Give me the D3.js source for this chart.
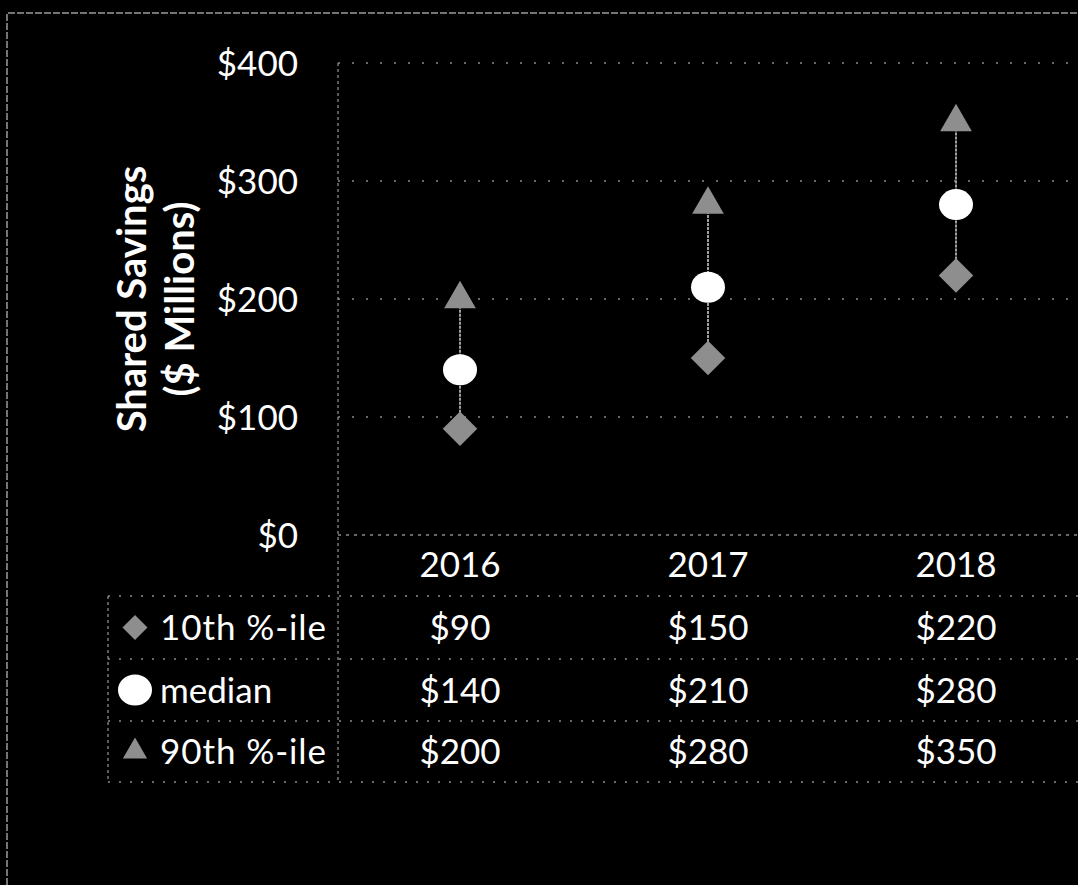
<!DOCTYPE html>
<html>
<head>
<meta charset="utf-8">
<script src="https://cdn.jsdelivr.net/npm/d3@7"></script>
<style>
  html, body { margin: 0; padding: 0; background: #000; }
  svg { display: block; }
  text { font-family: Lato, "Open Sans", sans-serif; fill: #fff; }
</style>
</head>
<body>
<svg id="chart" width="1078" height="885"></svg>
<script>
// ---- data ----
const years = ["2016", "2017", "2018"];
const p10 = [90, 150, 220];
const median = [140, 210, 280];
const p90 = [200, 280, 350];
const seriesNames = ["10th %-ile", "median", "90th %-ile"];
const yTicks = [0, 100, 200, 300, 400];
const yTitle = ["Shared Savings", "($ Millions)"];

// ---- layout ----
const W = 1078, H = 885;
const plotLeft = 338, plotTop = 63, plotBottom = 535;
const bandW = 248;
const rowTops = [596, 659, 721, 782];
const tableLeft = 108;

const svg = d3.select("#chart");
svg.append("rect").attr("width", W).attr("height", H).attr("fill", "#000");

const x = d3.scaleBand().domain(years).range([plotLeft - 2, plotLeft - 2 + bandW * years.length]);
const y = d3.scaleLinear().domain([0, 400]).range([plotBottom, plotTop]);

const gridCol = "#8a8a8a";
// outer chart border
svg.append("path")
  .attr("d", `M7,${H} L7,13 L${W},13`)
  .attr("fill", "none").attr("stroke", "#9a9a9a").attr("stroke-width", 1.5)
  .attr("stroke-dasharray", "7,2");

// gridlines
svg.append("g").selectAll("line").data(yTicks).join("line")
  .attr("x1", plotLeft).attr("x2", W)
  .attr("y1", d => y(d)).attr("y2", d => y(d))
  .attr("stroke", gridCol).attr("stroke-width", 1.3)
  .attr("stroke-dasharray", d => d === 0 ? "3,5" : "2,12");

// plot-left vertical line (extends through table)
svg.append("line")
  .attr("x1", plotLeft).attr("x2", plotLeft)
  .attr("y1", plotTop).attr("y2", rowTops[3])
  .attr("stroke", gridCol).attr("stroke-width", 1.3).attr("stroke-dasharray", "3,3");

// y axis via d3.axisLeft
const yAxis = d3.axisLeft(y).tickValues(yTicks).tickSize(0).tickPadding(0)
  .tickFormat(d => "$" + d);
const gy = svg.append("g").attr("transform", "translate(298,0)").call(yAxis);
gy.select(".domain").remove();
gy.selectAll("text")
  .attr("x", 0).attr("dy", "0.36em")
  .style("font-size", "35px").style("fill", "#fff")
  .attr("font-family", "Lato, sans-serif");

// y axis title
yTitle.forEach((t, i) => {
  svg.append("text")
    .attr("transform", `translate(${146 + i * 48},299) rotate(-90)`)
    .attr("text-anchor", "middle")
    .style("font-size", "40px").style("font-weight", "bold")
    .text(t);
});

// category labels
const xAxis = d3.axisBottom(x).tickSize(0).tickPadding(0);
const gx = svg.append("g").attr("transform", `translate(0,${plotBottom})`).call(xAxis);
gx.select(".domain").remove();
gx.selectAll("text")
  .attr("y", 0).attr("dy", "1.2em")
  .style("font-size", "35px").style("fill", "#fff")
  .attr("font-family", "Lato, sans-serif");

// table lines
svg.append("g").selectAll("line").data(rowTops).join("line")
  .attr("x1", tableLeft).attr("x2", W)
  .attr("y1", d => d).attr("y2", d => d)
  .attr("stroke", gridCol).attr("stroke-width", 1.3).attr("stroke-dasharray", "2,9");
svg.append("line")
  .attr("x1", tableLeft).attr("x2", tableLeft)
  .attr("y1", rowTops[0]).attr("y2", rowTops[3])
  .attr("stroke", gridCol).attr("stroke-width", 1.3).attr("stroke-dasharray", "3,3");

// ---- markers ----
const markerGrey = "#8e8e8e";
const diamond = d3.symbol().type(d3.symbolDiamond2);
const triangle = d3.symbol().type(d3.symbolTriangle2);
const cx = d => x(d) + x.bandwidth() / 2;

// high-low lines
svg.append("g").selectAll("line").data(years).join("line")
  .attr("x1", cx).attr("x2", cx)
  .attr("y1", (d, i) => y(p10[i])).attr("y2", (d, i) => y(p90[i]))
  .attr("stroke", "#a0a0a0").attr("stroke-width", 2).attr("stroke-dasharray", "3,1");

svg.append("g").selectAll("path").data(years).join("path")
  .attr("d", diamond.size(760))
  .attr("transform", (d, i) => `translate(${cx(d)},${y(p10[i])})`)
  .attr("fill", markerGrey);

svg.append("g").selectAll("path").data(years).join("path")
  .attr("d", triangle.size(720))
  .attr("transform", (d, i) => `translate(${cx(d)},${y(p90[i])})`)
  .attr("fill", markerGrey);

svg.append("g").selectAll("ellipse").data(years).join("ellipse")
  .attr("cx", cx).attr("cy", (d, i) => y(median[i]))
  .attr("rx", 17).attr("ry", 15.5)
  .attr("fill", "#fff");

// ---- data table ----
const tableSeries = [p10, median, p90];
tableSeries.forEach((vals, r) => {
  const cy = (rowTops[r] + rowTops[r + 1]) / 2;
  svg.append("g").selectAll("text").data(vals).join("text")
    .attr("x", (v, i) => cx(years[i]))
    .attr("y", cy).attr("dy", "0.36em")
    .attr("text-anchor", "middle")
    .style("font-size", "35px")
    .text(v => "$" + v);
  svg.append("text")
    .attr("x", 160).attr("y", cy).attr("dy", "0.36em")
    .style("font-size", "35px")
    .attr("textLength", r === 1 ? null : 166)
    .text(seriesNames[r]);
});

// legend keys
const keyX = 135;
const rowMid = r => (rowTops[r] + rowTops[r + 1]) / 2;
svg.append("path").attr("d", diamond.size(400))
  .attr("transform", `translate(${keyX},${rowMid(0)})`).attr("fill", markerGrey);
svg.append("ellipse").attr("cx", keyX).attr("cy", rowMid(1))
  .attr("rx", 17).attr("ry", 15.5).attr("fill", "#fff");
svg.append("path").attr("d", triangle.size(420))
  .attr("transform", `translate(${keyX},${rowMid(2)})`).attr("fill", markerGrey);
</script>
</body>
</html>
